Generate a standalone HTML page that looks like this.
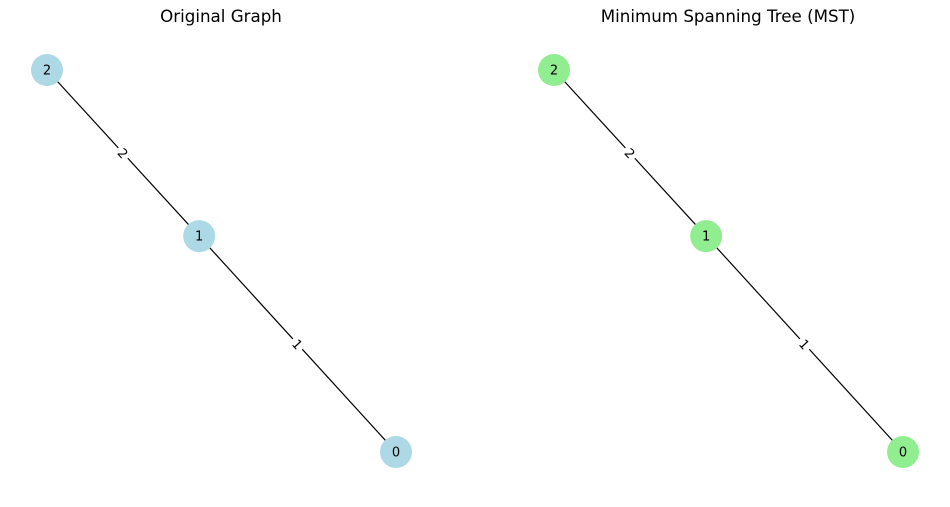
<!DOCTYPE html>
<html><head><meta charset="utf-8"><style>
body{margin:0;background:#fff}
svg text{font-family:"DejaVu Sans","Liberation Sans",sans-serif}
</style></head><body>
<svg id="c" width="950" height="502" xmlns="http://www.w3.org/2000/svg"></svg>
<script>
const nodeIds=[0,1,2];
const nodeX=[1,0.436,0];
const nodeY=[1,0.435,0];
const edgeFrom=[0,1];
const edgeTo=[1,2];
const edgeWeights=[1,2];
const mstFrom=[0,1];
const mstTo=[1,2];
const mstWeights=[1,2];
const panels=[{title:"Original Graph",x0:47,color:"#add8e6",name:"original-graph",from:edgeFrom,to:edgeTo,w:edgeWeights},
{title:"Minimum Spanning Tree (MST)",x0:554,color:"#90ee90",name:"mst-graph",from:mstFrom,to:mstTo,w:mstWeights}];
const NS="http://www.w3.org/2000/svg",svg=document.getElementById('c');
function mk(t,a,p){const e=document.createElementNS(NS,t);for(const k in a)e.setAttribute(k,a[k]);(p||svg).appendChild(e);return e;}
panels.forEach(P=>{
 const sx=v=>P.x0+v*349, sy=v=>70+v*382;
 const g=mk('g',{});
 
 
 const t=mk('text',{x:P.x0+174,y:22,'text-anchor':'middle','font-size':16.7},g);t.textContent=P.title;
 
 
 P.from.forEach((f,i)=>{
  const a=nodeIds.indexOf(f),b=nodeIds.indexOf(P.to[i]);
  const x1=sx(nodeX[a]),y1=sy(nodeY[a]),x2=sx(nodeX[b]),y2=sy(nodeY[b]);
  const l=mk('line',{x1,y1,x2,y2,stroke:'#000','stroke-width':1.2},g);
  
  
  const mx=(x1+x2)/2,my=(y1+y2)/2;
  let ang=Math.atan2(y2-y1,x2-x1)*180/Math.PI; if(ang>90)ang-=180; if(ang<-90)ang+=180;
  const lg=mk('g',{transform:`translate(${mx},${my}) rotate(${ang})`},g);
  mk('rect',{x:-7,y:-8,width:14,height:16,fill:'#fff'},lg);
  const tx=mk('text',{x:0,y:5,'text-anchor':'middle','font-size':13},lg);tx.textContent=P.w[i];
  
  
 });
 nodeIds.forEach((n,i)=>{
  const c=mk('circle',{cx:sx(nodeX[i]),cy:sy(nodeY[i]),r:16,fill:P.color},g);
  
  
  const tx=mk('text',{x:sx(nodeX[i]),y:sy(nodeY[i])+4.5,'text-anchor':'middle','font-size':13},g);tx.textContent=n;
  
  
 });
});
</script>
</body></html>
